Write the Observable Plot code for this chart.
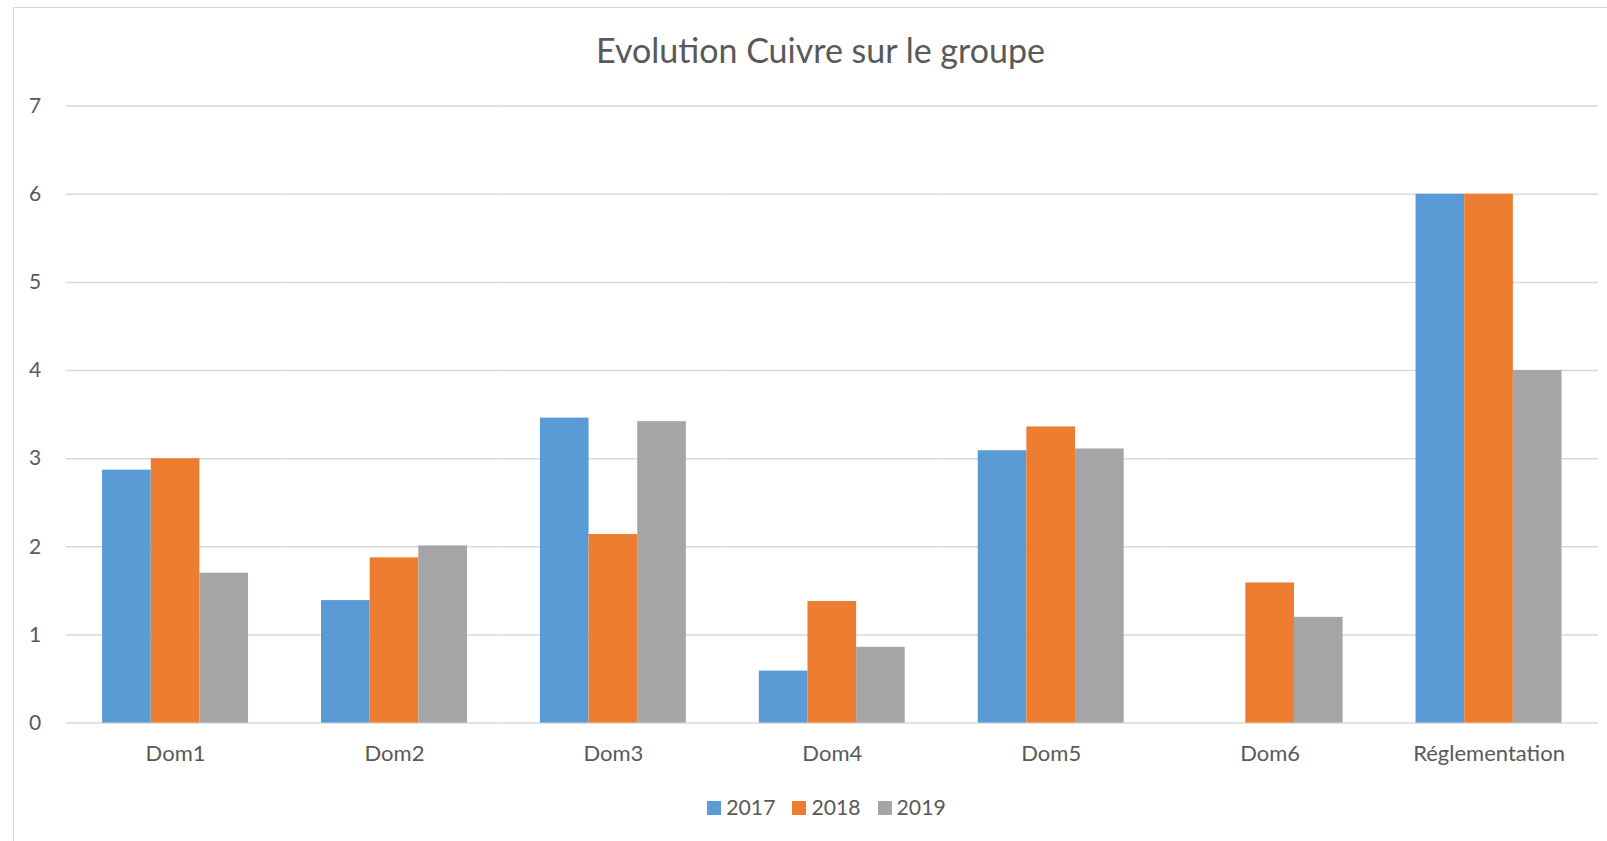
<!DOCTYPE html>
<html>
<head>
<meta charset="utf-8">
<script src="https://cdn.jsdelivr.net/npm/d3@7"></script>
<script src="https://cdn.jsdelivr.net/npm/@observablehq/plot@0.6"></script>
<style>
  html, body { margin: 0; padding: 0; background: #fff; overflow: hidden; width: 1607px; height: 841px; }
  #frame { position: absolute; left: 13px; top: 7px; width: 1640px; height: 900px; border: 1.5px solid #d9d9d9; box-sizing: border-box; }
  #title { position: absolute; left: 0; width: 1641px; top: 29.7px; line-height: 1.2; text-align: center; font-family: Lato, sans-serif; font-size: 34px; color: #595959; white-space: nowrap; }
  #chart { position: absolute; left: 0; top: 0; }
  #chart svg text { font-family: Lato, sans-serif; font-size: 22px; fill: #595959; }
  #chart svg g[aria-label="y-axis tick label"] text, #chart svg g[aria-label="y-axis"] text { font-size: 21px; }
  #legend { position: absolute; top: 795px; left: 0; width: 1653px; line-height: 1.2; display: flex; justify-content: center; gap: 17px; font-family: Lato, sans-serif; font-size: 21.2px; color: #595959; }
  .item { display: flex; align-items: center; gap: 5px; }
  .sw { width: 14px; height: 14px; display: inline-block; }
</style>
</head>
<body>
<div id="frame"></div>
<div id="title">Evolution Cuivre sur le groupe</div>
<div id="chart"></div>
<div id="legend"></div>
<script>
const categories = ["Dom1", "Dom2", "Dom3", "Dom4", "Dom5", "Dom6", "Réglementation"];
const years = ["2017", "2018", "2019"];
const v2017 = [2.87, 1.39, 3.46, 0.59, 3.09, null, 6];
const v2018 = [3.0, 1.875, 2.14, 1.38, 3.36, 1.59, 6];
const v2019 = [1.70, 2.01, 3.42, 0.86, 3.11, 1.20, 4];
const yTicks = [0, 1, 2, 3, 4, 5, 6, 7];
const colors = ["#5B9BD5", "#ED7D31", "#A5A5A5"];

const series = [v2017, v2018, v2019];
const data = [];
categories.forEach((c, i) => {
  years.forEach((y, j) => {
    const v = series[j][i];
    if (v != null) data.push({cat: c, year: y, value: v});
  });
});

const chart = Plot.plot({
  width: 1607,
  height: 790,
  marginLeft: 65.6,
  marginRight: 9,
  marginTop: 105.6,
  marginBottom: 67.4,
  style: {background: "transparent", fontFamily: "Lato, sans-serif"},
  fx: {domain: categories, padding: 0, round: false, label: null, tickSize: 0, tickPadding: 22.5},
  x: {domain: years, paddingInner: 0, paddingOuter: 0.75, round: false, axis: null},
  y: {domain: [0, 7], ticks: yTicks, tickFormat: d => String(d), tickSize: 0, tickPadding: 25, label: null},
  color: {domain: years, range: colors},
  marks: [
    Plot.ruleY(yTicks, {stroke: "#d9d9d9", strokeWidth: 1.5}),
    Plot.barY(data, {fx: "cat", x: "year", y: "value", fill: "year"})
  ]
});
document.getElementById("chart").appendChild(chart);

const legend = document.getElementById("legend");
years.forEach((y, j) => {
  const item = document.createElement("div");
  item.className = "item";
  const sw = document.createElement("span");
  sw.className = "sw";
  sw.style.background = colors[j];
  const t = document.createElement("span");
  t.textContent = y;
  item.appendChild(sw);
  item.appendChild(t);
  legend.appendChild(item);
});
</script>
</body>
</html>
